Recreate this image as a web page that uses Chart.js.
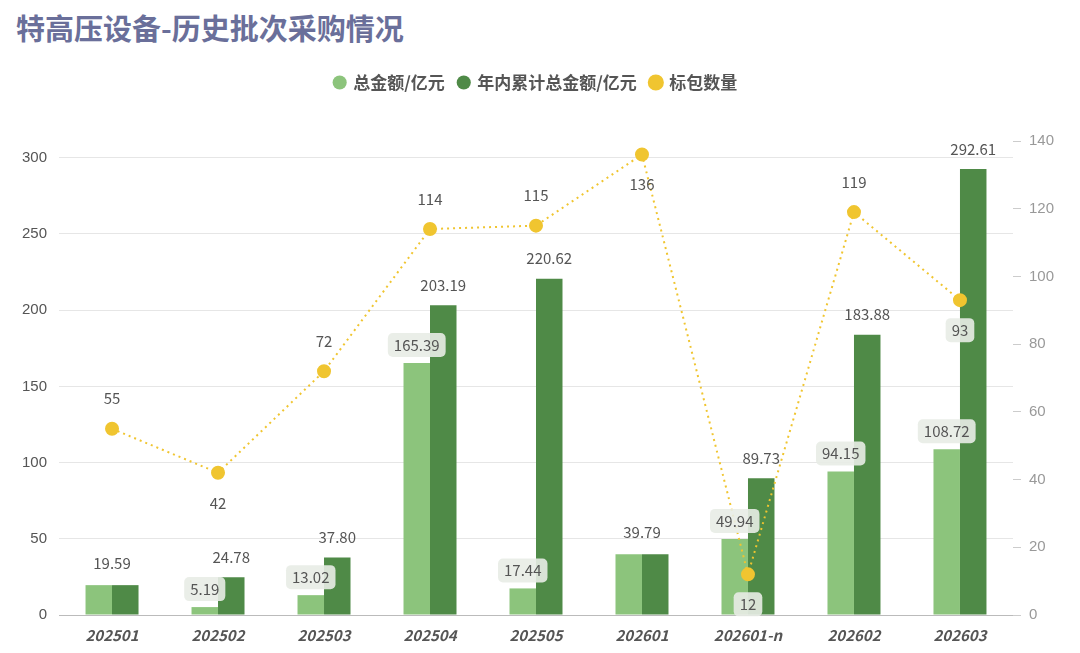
<!DOCTYPE html>
<html><head><meta charset="utf-8">
<script src="https://cdn.jsdelivr.net/npm/chart.js@4/dist/chart.umd.min.js"></script>
<style>
body{margin:0;background:#fff;font-family:"Noto Sans CJK SC","Noto Sans",sans-serif;}
#wrap{position:relative;width:1080px;height:653px;}
h1{position:absolute;left:16px;top:6px;margin:0;font-size:29px;color:#6a6f9a;font-weight:bold;}
#c{position:absolute;left:0;top:60px;}
</style></head><body>
<div id="wrap"><h1>特高压设备-历史批次采购情况</h1><canvas id="c" width="1080" height="593"></canvas></div>
<script>
const CATEGORIES = ["202501","202502","202503","202504","202505","202601","202601-n","202602","202603"];
const TOTAL = [19.59,5.19,13.02,165.39,17.44,39.79,49.94,94.15,108.72];
const CUMULATIVE = [19.59,24.78,37.80,203.19,220.62,39.79,89.73,183.88,292.61];
const PACKAGES = [55,42,72,114,115,136,12,119,93];
const PKG_BELOW = [false,true,false,false,false,true,true,false,true];

const labelPlugin = {
  id: "labels",
  afterDatasetsDraw(chart) {
    const ctx = chart.ctx;
    ctx.save();
    ctx.font = "15px 'Noto Sans CJK SC'";
    ctx.textAlign = "center"; ctx.textBaseline = "middle";
    const box = (x, y, t) => {
      const w = ctx.measureText(t).width + 12, h = 24;
      ctx.fillStyle = "rgba(232,236,230,0.9)";
      ctx.beginPath(); ctx.roundRect(x - w/2, y - h/2, w, h, 5); ctx.fill();
    };
    const bars0 = chart.getDatasetMeta(0).data, bars1 = chart.getDatasetMeta(1).data;
    bars0.forEach((b, i) => {
      const t = TOTAL[i].toFixed(2);
      let x = b.x, y = b.y - 18;
      if (i === 0 || i === 5) { x = (b.x + bars1[i].x) / 2; y = b.y - 22; }
      else if (i !== 0 && i !== 5) box(x, y, t);
      ctx.fillStyle = "#555"; ctx.fillText(t, x, y);
    });
    bars1.forEach((b, i) => {
      if (i === 0 || i === 5) return;
      const t = CUMULATIVE[i].toFixed(2);
      ctx.fillStyle = "#555"; ctx.fillText(t, b.x, b.y - 20);
    });
    chart.getDatasetMeta(2).data.forEach((p, i) => {
      const t = String(PACKAGES[i]);
      const y = PKG_BELOW[i] ? p.y + 30 : p.y - 30;
      if (i === 6 || i === 8) box(p.x, y, t);
      ctx.fillStyle = "#555"; ctx.fillText(t, p.x, y);
    });
    ctx.restore();
  }
};

new Chart(document.getElementById("c"), {
  data: {
    labels: CATEGORIES,
    datasets: [
      { type: "bar", label: "总金额/亿元", data: TOTAL, backgroundColor: "#8cc47c", yAxisID: "y", order: 2, categoryPercentage: 0.5, barPercentage: 1 },
      { type: "bar", label: "年内累计总金额/亿元", data: CUMULATIVE, backgroundColor: "#4f8a47", yAxisID: "y", order: 2, categoryPercentage: 0.5, barPercentage: 1 },
      { type: "line", label: "标包数量", data: PACKAGES, borderColor: "#f0c530", backgroundColor: "#f0c530", borderDash: [2,4], borderWidth: 2, pointRadius: 6, pointHoverRadius: 6, yAxisID: "y1", order: 1 }
    ]
  },
  options: {
    responsive: false, animation: false,
    layout: { padding: { left: 10, right: 18, top: 0, bottom: 6 } },
    plugins: {
      legend: { position: "top",
        labels: { sort: (a, b) => a.datasetIndex - b.datasetIndex, usePointStyle: true, pointStyle: "circle", boxWidth: 10, boxHeight: 10, padding: 14, color: "#555", font: { size: 17, weight: "bold", family: "Noto Sans CJK SC" } } },
      tooltip: { enabled: false }
    },
    scales: {
      x: { grid: { display: false }, border: { color: "#bbb" },
           ticks: { color: "#555", font: { size: 15, weight: "bold", style: "italic", family: "Noto Sans CJK SC" } } },
      y: { min: 0, max: 311, position: "left",
           afterBuildTicks: a => { a.ticks = [0,50,100,150,200,250,300].map(v => ({ value: v })); },
           afterFit: a => { a.paddingTop = 0; },
           grid: { color: "#e6e6e6", drawTicks: false }, border: { display: false },
           ticks: { color: "#555", padding: 12, font: { size: 15 } } },
      y1: { min: 0, max: 140, position: "right",
            ticks: { stepSize: 20, color: "#999", padding: 8, font: { size: 15 } },
            grid: { display: true, drawOnChartArea: false, drawTicks: true, tickLength: 8, tickColor: "#ccc" },
            border: { display: false } }
    }
  },
  plugins: [labelPlugin, { id: "legendGap", beforeInit(chart) {
    const orig = chart.legend && chart.legend.fit;
  }, afterInit(chart) {
    const lg = chart.legend; const fit = lg.fit;
    lg.fit = function() { fit.call(this); this.height += 40; };
  } }]
});
</script></body></html>
